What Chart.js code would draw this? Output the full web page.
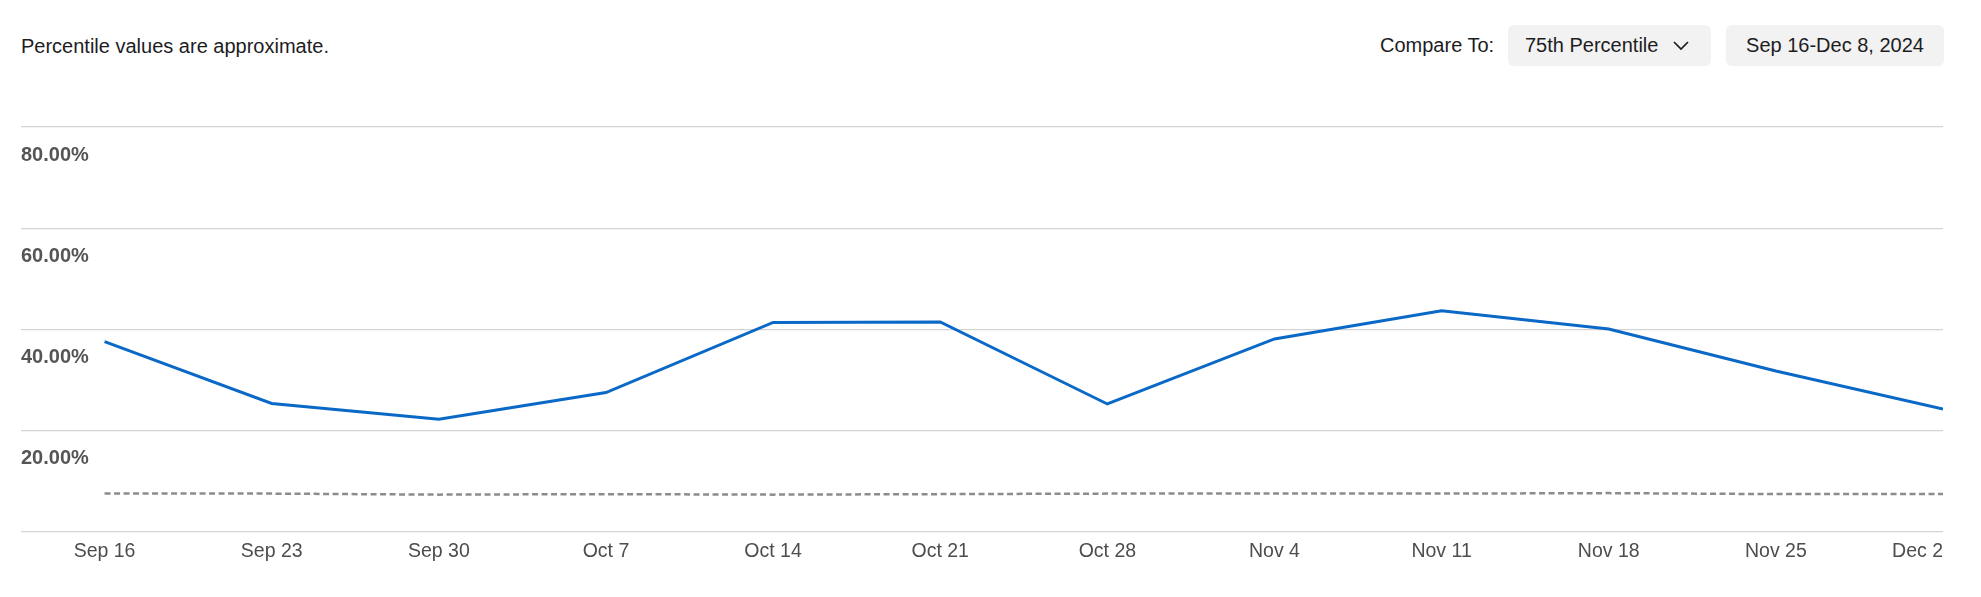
<!DOCTYPE html>
<html>
<head>
<meta charset="utf-8">
<script src="https://cdn.jsdelivr.net/npm/chart.js@4.4.1/dist/chart.umd.min.js"></script>
<style>
  html, body { margin: 0; padding: 0; background: #ffffff; }
  body { width: 1981px; height: 597px; position: relative; overflow: hidden;
         font-family: "Liberation Sans", Arial, Helvetica, sans-serif; color: #1d1d1f; }
  #note { position: absolute; left: 21px; top: 34px; font-size: 20px; line-height: 24px; }
  #controls { position: absolute; top: 25px; left: 1380px; height: 41px; display: flex; align-items: center; }
  #cmpLabel { font-size: 20px; width: 128px; }
  .box { height: 41px; background: #f2f2f2; border-radius: 6px; display: flex; align-items: center;
         font-size: 20px; box-sizing: border-box; }
  #drop { width: 203px; padding: 0 0 0 17px; margin-right: 15px; }
  #drop svg { margin-left: 14px; }
  #date { width: 218px; justify-content: center; }
  #wrap { position: absolute; left: 0; top: 0; width: 1981px; height: 597px; }
</style>
</head>
<body>
<div id="note">Percentile values are approximate.</div>
<div id="controls">
  <span id="cmpLabel">Compare To:</span>
  <div class="box" id="drop"><span>75th Percentile</span><svg width="18" height="11" viewBox="0 0 18 11"><polyline points="2,2 9,9 16,2" fill="none" stroke="#1d1d1f" stroke-width="1.7"/></svg></div>
  <div class="box" id="date">Sep 16-Dec 8, 2024</div>
</div>
<div id="wrap"><canvas id="c"></canvas></div>
<script>
const weekLabels = ["Sep 16", "Sep 23", "Sep 30", "Oct 7", "Oct 14", "Oct 21", "Oct 28", "Nov 4", "Nov 11", "Nov 18", "Nov 25", "Dec 2"];
const showValues = [37.6, 25.4, 22.3, 27.55, 41.4, 41.5, 25.3, 38.15, 43.7, 40.1, 31.8, 24.3];
const percentile75 = [7.6, 7.6, 7.4, 7.5, 7.4, 7.5, 7.6, 7.6, 7.6, 7.7, 7.5, 7.5];
const yTicks = [0, 20, 40, 60, 80];

const toPoints = arr => arr.map((v, i) => ({ x: i, y: v }));

new Chart(document.getElementById('c'), {
  type: 'line',
  data: {
    datasets: [
      { label: 'Show', data: toPoints(showValues), borderColor: '#0a69c7', borderWidth: 3,
        pointRadius: 0, tension: 0, fill: false },
      { label: '75th Percentile', data: toPoints(percentile75), borderColor: '#8c8c8c', borderWidth: 2.5,
        borderDash: [6, 3.5], pointRadius: 0, tension: 0, fill: false }
    ]
  },
  options: {
    responsive: true,
    maintainAspectRatio: false,
    animation: false,
    layout: { padding: { left: 21, right: 38, top: 127, bottom: 25.5 } },
    plugins: { legend: { display: false }, tooltip: { enabled: false } },
    scales: {
      x: {
        type: 'linear',
        min: -0.5,
        max: weekLabels.length - 1,
        grid: { display: false, drawTicks: false },
        border: { display: false },
        ticks: {
          stepSize: 1,
          autoSkip: false,
          maxRotation: 0,
          align: 'inner',
          padding: 8,
          color: '#4d4d4d',
          font: { family: '"Liberation Sans", Arial, sans-serif', size: 19.5 },
          callback: v => (Number.isInteger(v) && weekLabels[v] !== undefined) ? weekLabels[v] : ''
        }
      },
      y: {
        min: yTicks[0],
        max: yTicks[yTicks.length - 1],
        afterBuildTicks: axis => { axis.ticks = yTicks.map(v => ({ value: v })); },
        grid: { color: '#d4d4d4', lineWidth: 1.3, drawTicks: false },
        border: { display: false },
        ticks: {
          mirror: true,
          padding: 0,
          labelOffset: 28,
          color: '#555555',
          font: { family: '"Liberation Sans", Arial, sans-serif', size: 20, weight: 'bold' },
          callback: v => v === 0 ? '' : v.toFixed(2) + '%'
        }
      }
    }
  }
});
</script>
</body>
</html>
